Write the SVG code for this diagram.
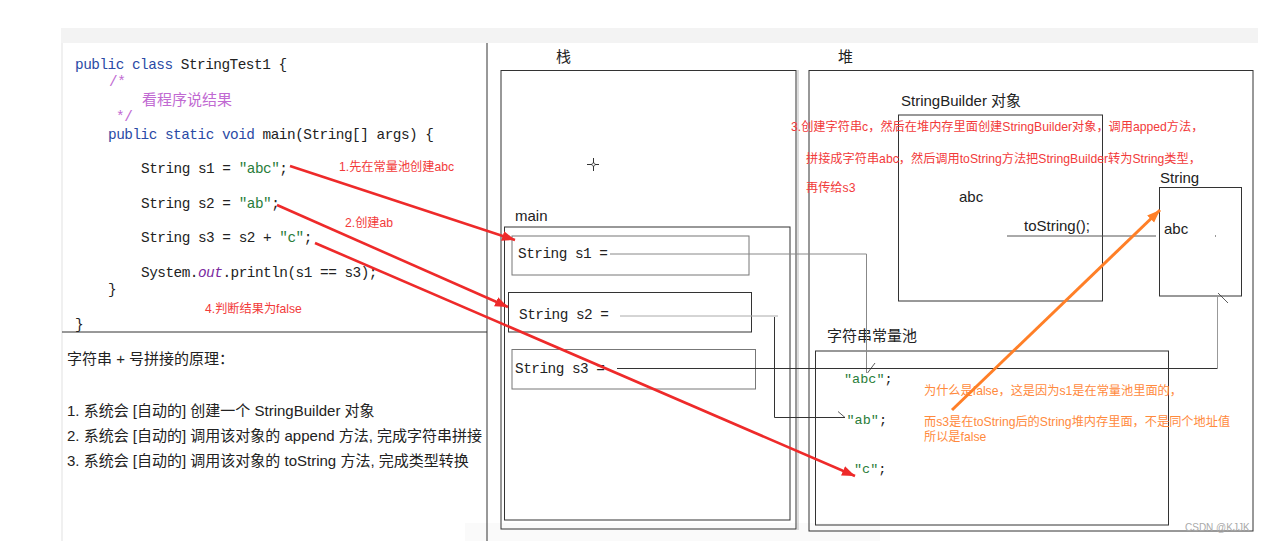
<svg xmlns="http://www.w3.org/2000/svg" width="1265" height="541" viewBox="0 0 1265 541">
<style>
.code{font-family:"Liberation Mono","Noto Sans CJK SC",monospace;font-size:14.4px;letter-spacing:-0.5px;fill:#222}
.kw{fill:#2a4aa5}
.str{fill:#2a7d3a}
.cmt{fill:#c16ad2}
.it{fill:#7a2aa0;font-style:italic}
.ui{font-family:"Liberation Sans","Noto Sans CJK SC",sans-serif;font-size:15px;fill:#222}
.pr{font-family:"Liberation Sans","Noto Sans CJK SC",sans-serif;font-size:15px;fill:#222}
.note{font-family:"Liberation Sans","Noto Sans CJK SC",sans-serif;font-size:12.2px;fill:#f23a3a}
.onote{font-family:"Liberation Sans","Noto Sans CJK SC",sans-serif;font-size:12.2px;fill:#ff8a3d}
.pool{font-family:"Liberation Mono",monospace;font-size:13.5px;fill:#222}
.box{fill:none;stroke:#333;stroke-width:1}
.gbox{fill:none;stroke:#777;stroke-width:1}
.red{stroke:#ee2a2a;stroke-width:2.6;fill:none}
.org{stroke:#ff7f27;stroke-width:3;fill:none}
</style>
<defs>
<marker id="ar" markerUnits="userSpaceOnUse" markerWidth="14" markerHeight="12" refX="13" refY="5" orient="auto"><path d="M0,0 L13,5 L0,10 z" fill="#ee2a2a"/></marker>
<marker id="ao" markerUnits="userSpaceOnUse" markerWidth="14" markerHeight="12" refX="13" refY="5" orient="auto"><path d="M0,0 L13,5 L0,10 z" fill="#ff7f27"/></marker>
</defs>
<rect width="1265" height="541" fill="#fff"/>
<rect x="61" y="28" width="1197" height="15" fill="#f3f3f3"/>
<rect x="61" y="43" width="2" height="498" fill="#f0f0f0"/>
<rect x="465" y="523" width="415" height="18" fill="#fafafa"/>

<g id="code-panel">
<line x1="487" y1="43" x2="487" y2="541" stroke="#333"/>
<line x1="62" y1="332" x2="487" y2="332" stroke="#333"/>
<text class="code" x="75" y="69"><tspan class="kw">public class</tspan> StringTest1 {</text>
<text class="code cmt" x="109" y="86">/*</text>
<text class="code cmt" x="142" y="104.5" style="font-family:'Noto Sans CJK SC',sans-serif;font-size:15px;letter-spacing:0">看程序说结果</text>
<text class="code cmt" x="116" y="121">*/</text>
<text class="code" x="108" y="139"><tspan class="kw">public static void</tspan> main(String[] args) {</text>
<text class="code" x="141" y="173">String s1 = <tspan class="str">"abc"</tspan>;</text>
<text class="code" x="141" y="207.5">String s2 = <tspan class="str">"ab"</tspan>;</text>
<text class="code" x="141" y="242">String s3 = s2 + <tspan class="str">"c"</tspan>;</text>
<text class="code" x="141" y="276.5">System.<tspan class="it">out</tspan>.println(s1 == s3);</text>
<text class="code" x="108" y="294">}</text>
<text class="code" x="75" y="329">}</text>
<text class="note" x="339" y="170.5">1.先在常量池创建abc</text>
<text class="note" x="345" y="226.5">2.创建ab</text>
<text class="note" x="205" y="313">4.判断结果为false</text>
</g>

<g id="principle">
<text class="pr" x="67" y="363.5">字符串 + 号拼接的原理：</text>
<text class="pr" x="67" y="415.5">1. 系统会 [自动的] 创建一个 StringBuilder 对象</text>
<text class="pr" x="67" y="440.5">2. 系统会 [自动的] 调用该对象的 append 方法, 完成字符串拼接</text>
<text class="pr" x="67" y="466">3. 系统会 [自动的] 调用该对象的 toString 方法, 完成类型转换</text>
</g>

<g id="stack">
<text class="ui" x="556" y="62">栈</text>
<rect class="box" x="501" y="70.5" width="295" height="458.5"/>
<line x1="798" y1="70" x2="798" y2="530" stroke="#bbb"/>
<g stroke="#333" stroke-width="1">
<line x1="587" y1="164.5" x2="599" y2="164.5"/><line x1="593.5" y1="158" x2="593.5" y2="171"/>
</g>
<circle cx="593.5" cy="164.5" r="1.6" fill="#fff" stroke="#333" stroke-width="0.8"/>
</g>

<g id="main-frame">
<text class="ui" x="515" y="221">main</text>
<rect class="box" x="504.5" y="227" width="285.5" height="293"/>
</g>

<g id="s1">
<rect class="gbox" x="512" y="236" width="237" height="39"/>
<text class="code" x="518" y="258">String s1 =</text>
</g>
<g id="s2">
<rect class="box" x="508.5" y="292.5" width="243" height="39.5"/>
<text class="code" x="519" y="319">String s2 =</text>
</g>
<g id="s3">
<rect class="gbox" x="512" y="349.5" width="243.5" height="39.5"/>
<text class="code" x="515" y="373">String s3 =</text>
</g>

<g id="heap">
<text class="ui" x="838" y="62">堆</text>
<rect class="box" x="809" y="70.5" width="444" height="460.5"/>
</g>

<g id="stringbuilder">
<text class="ui" x="901" y="106">StringBuilder 对象</text>
<rect class="box" x="898.5" y="115" width="204" height="186"/>
<text class="ui" x="959" y="202">abc</text>
<text class="ui" x="1024" y="231">toString();</text>
</g>

<g id="string-obj">
<text class="ui" x="1160" y="183">String</text>
<rect class="box" x="1159.5" y="187.5" width="82" height="108.5"/>
<text class="ui" x="1164" y="234">abc</text>
<rect x="1215" y="235.5" width="1" height="1" fill="#333"/>
</g>

<g id="constant-pool">
<text class="ui" x="827" y="341">字符串常量池</text>
<rect class="box" x="815.5" y="351" width="353" height="174"/>
<text class="pool" x="844" y="383"><tspan class="str">"abc"</tspan>;</text>
<text class="pool" x="846.5" y="424"><tspan class="str">"ab"</tspan>;</text>
<text class="pool" x="854" y="473"><tspan class="str">"c"</tspan>;</text>
</g>

<g id="notes">
<text class="note" x="791" y="131">3.创建字符串c，然后在堆内存里面创建StringBuilder对象，调用apped方法，</text>
<text class="note" x="806" y="162.5">拼接成字符串abc，然后调用toString方法把StringBuilder转为String类型，</text>
<text class="note" x="806" y="192">再传给s3</text>
<text class="onote" x="924" y="395">为什么是false，这是因为s1是在常量池里面的，</text>
<text class="onote" x="924" y="426">而s3是在toString后的String堆内存里面，不是同个地址值</text>
<text class="onote" x="924" y="441">所以是false</text>
</g>

<g id="connectors">
<polyline points="610,254 866.5,254 866.5,373" fill="none" stroke="#888"/>
<line x1="867.5" y1="373" x2="875" y2="363" stroke="#333" stroke-width="0.8"/>
<line x1="620" y1="316" x2="778" y2="316" stroke="#aaa"/>
<polyline points="774.5,317 774.5,417.5 845,417.5" fill="none" stroke="#333"/>
<line x1="838" y1="411.5" x2="845" y2="417.5" stroke="#333" stroke-width="0.8"/>
<line x1="617" y1="368.5" x2="1217.5" y2="368.5" stroke="#333"/>
<line x1="1217.5" y1="297" x2="1217.5" y2="368.5" stroke="#999"/>
<line x1="1218" y1="293" x2="1228" y2="303" stroke="#333" stroke-width="0.8"/>
<line x1="1007" y1="236" x2="1156" y2="236" stroke="#555"/>
<line class="red" x1="290" y1="166" x2="515" y2="240" marker-end="url(#ar)"/>
<line class="red" x1="277" y1="205" x2="508" y2="307" marker-end="url(#ar)"/>
<line class="red" x1="315" y1="243" x2="855" y2="476" marker-end="url(#ar)"/>
<line class="org" x1="952" y1="410" x2="1160" y2="210" marker-end="url(#ao)"/>
</g>

<text x="1185" y="531" font-family="Liberation Sans, sans-serif" font-size="10" fill="#aaa">CSDN @KJJK</text>
</svg>
